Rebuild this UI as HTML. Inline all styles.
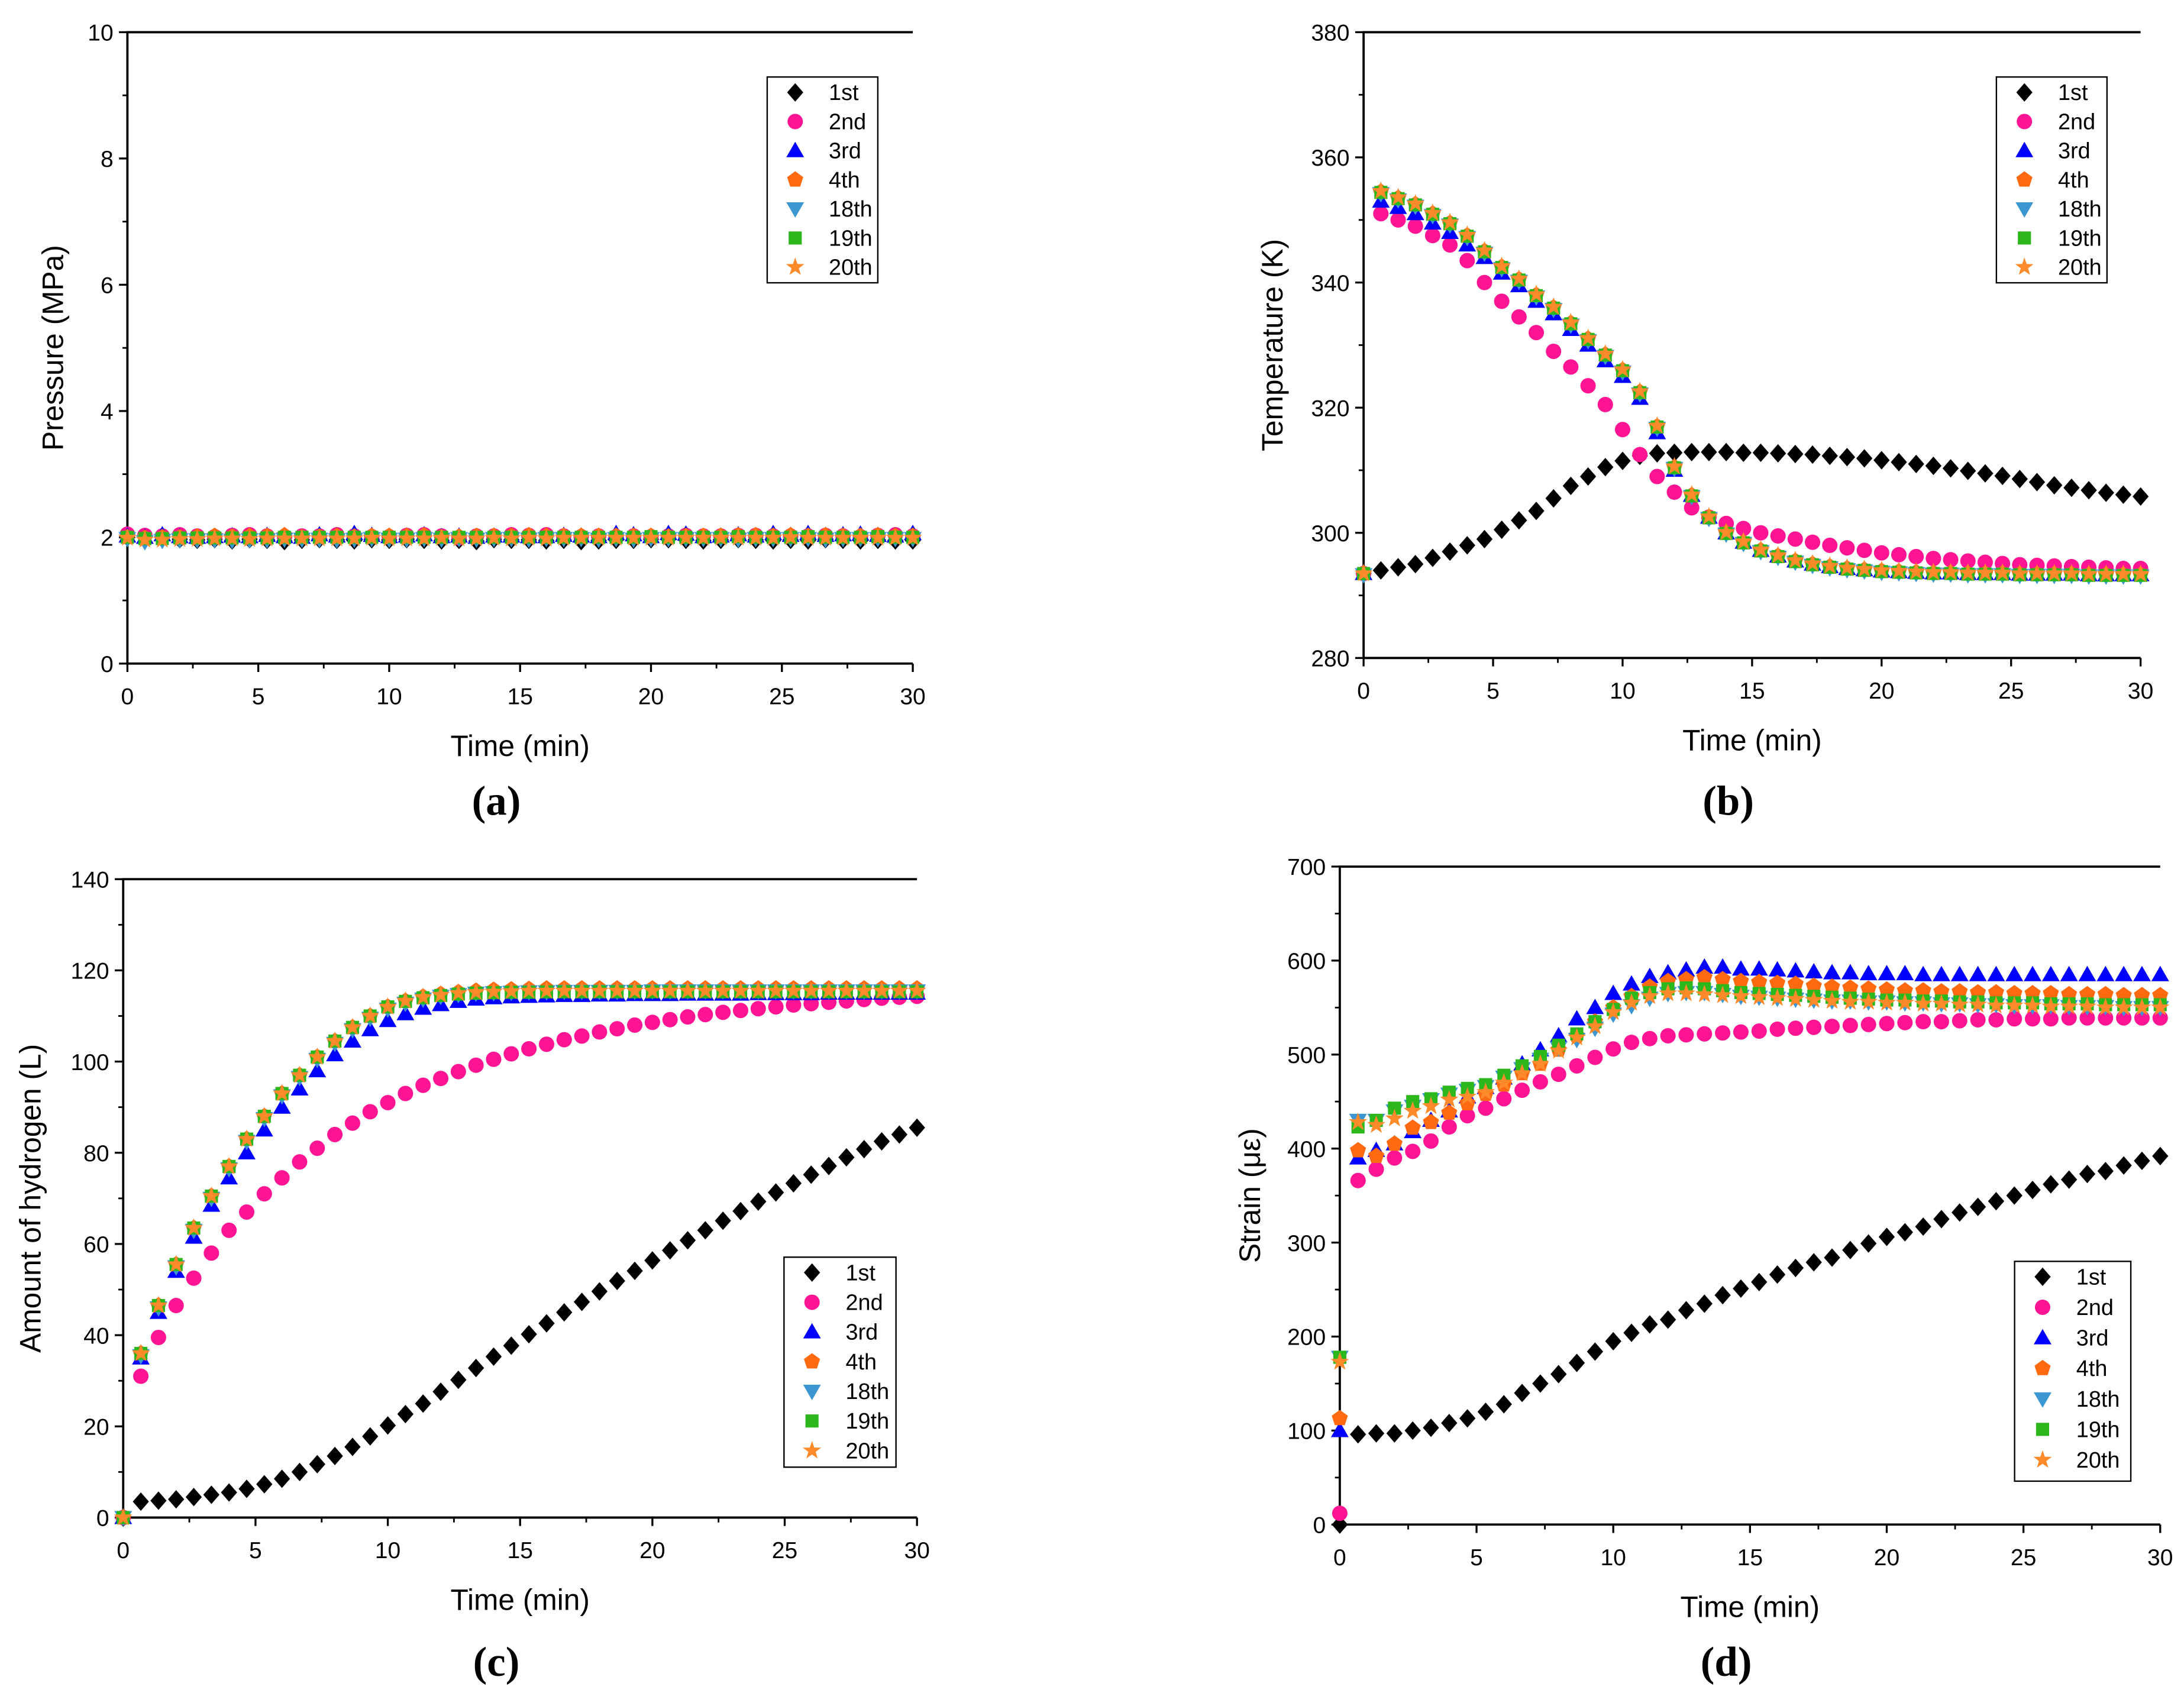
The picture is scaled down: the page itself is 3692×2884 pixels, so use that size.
<!DOCTYPE html>
<html><head><meta charset="utf-8"><style>
html,body{margin:0;padding:0;background:#fff;}
svg{display:block;}
text{font-family:"Liberation Sans",Arial,sans-serif;fill:#000;}
.cap{font-family:"Liberation Serif",serif;font-weight:bold;}
</style></head><body>
<svg id="fig" xmlns="http://www.w3.org/2000/svg" width="3692" height="2884" viewBox="0 0 1560 1218.6" preserveAspectRatio="none"></svg>
<script>
const timeStepMin = 2/3;
const seriesNames = ["1st","2nd","3rd","4th","18th","19th","20th"];
// Panel (a) Pressure (MPa)
const pressure1st = [2.0,2.0,2.01,1.97,1.96,1.97,1.95,1.97,1.96,1.94,1.96,1.97,1.96,1.95,1.97,1.96,1.97,1.96,1.95,1.96,1.94,1.97,1.96,1.96,1.95,1.96,1.94,1.95,1.96,1.96,1.97,1.97,1.96,1.95,1.96,1.97,1.96,1.95,1.96,1.95,1.97,1.96,1.95,1.96,1.95,1.95];
const pressure2nd = [2.05,2.03,2.02,2.04,2.02,2.01,2.03,2.04,2.02,2.01,2.02,2.02,2.04,2.02,2.01,2.01,2.03,2.04,2.02,1.99,2.02,2.02,2.04,2.03,2.04,2.02,2.01,2.02,2.01,2.02,2.01,2.02,2.03,2.02,2.02,2.03,2.03,2.02,2.02,2.02,2.03,2.02,2.01,2.03,2.04,2.02];
const pressure3rd = [2.02,2.0,2.04,2.01,2.0,2.01,2.02,2.01,2.03,2.01,2.0,2.04,2.02,2.06,2.03,2.01,2.02,2.04,2.01,2.02,2.0,2.02,2.02,2.01,2.01,2.03,2.02,2.01,2.06,2.04,2.01,2.06,2.05,2.01,2.02,2.04,2.02,2.06,2.03,2.06,2.03,2.04,2.05,2.03,2.02,2.06];
const pressure4th = [2.0,1.99,2.0,2.0,2.01,2.02,2.01,2.02,2.02,2.03,2.0,2.01,2.02,2.01,2.02,2.02,2.02,2.03,2.0,2.01,2.02,2.02,2.02,2.03,2.02,2.02,2.02,2.02,2.02,2.02,2.02,2.01,2.02,2.02,2.02,2.03,2.03,2.02,2.03,2.02,2.03,2.02,2.02,2.03,2.02,2.02];
const pressure18th = [1.98,1.93,1.95,1.96,1.96,1.96,1.95,1.96,1.96,1.97,1.97,1.97,1.96,1.97,1.98,1.97,1.97,1.98,1.97,1.98,1.97,1.98,1.98,1.97,1.98,1.98,1.98,1.97,1.98,1.97,1.98,1.98,1.98,1.98,1.98,1.97,1.98,1.98,1.98,1.98,1.97,1.98,1.98,1.98,1.98,1.98];
const pressure19th = [2.0,1.98,1.98,1.99,1.99,1.99,1.99,1.99,1.99,2.0,2.0,2.0,2.0,2.0,2.0,2.0,2.0,2.0,2.0,2.0,2.0,2.0,2.0,2.0,2.0,2.0,2.0,2.0,2.0,2.0,2.01,2.0,2.0,2.0,2.0,2.01,2.0,2.0,2.0,2.01,2.0,2.0,2.0,2.01,2.0,2.0];
const pressure20th = [1.99,1.96,1.96,1.97,1.97,1.98,1.98,1.97,1.98,1.98,1.98,1.98,1.98,1.98,1.99,1.98,1.98,1.98,1.99,1.98,1.98,1.99,1.98,1.99,1.98,1.99,1.99,1.99,1.99,1.99,1.99,1.99,1.99,1.99,1.99,1.99,1.99,1.99,2.0,1.99,1.99,1.99,1.99,1.99,1.99,1.99];
// Panel (b) Temperature (K)
const temp1st = [293.5,294,294.5,295,296,297,298,299,300.5,302,303.5,305.5,307.5,309,310.5,311.5,312.3,312.7,312.8,312.9,312.9,312.9,312.8,312.8,312.7,312.6,312.5,312.3,312.1,311.9,311.6,311.3,311,310.7,310.3,309.9,309.5,309.1,308.6,308.1,307.6,307.2,306.8,306.4,306.1,305.8];
const temp2nd = [293.5,351,350,349,347.5,346,343.5,340,337,334.5,332,329,326.5,323.5,320.5,316.5,312.5,309,306.5,304,302.5,301.5,300.7,300,299.5,299,298.5,298,297.6,297.2,296.8,296.5,296.2,295.9,295.7,295.5,295.3,295.1,294.9,294.8,294.7,294.6,294.5,294.4,294.3,294.3];
const temp3rd = [293.5,353,352,351,349.5,348,346,344,341.5,339.5,337,335,332.5,330,327.5,325,321.5,316,310,306,302.5,300,298.5,297.2,296.3,295.5,295,294.6,294.3,294.1,293.9,293.8,293.7,293.6,293.6,293.5,293.5,293.5,293.4,293.4,293.4,293.4,293.3,293.3,293.3,293.3];
const temp4th = [293.5,354.5,353.5,352.5,351,349.5,347.5,345,342.5,340.5,338,336,333.5,331,328.5,326,322.5,317,310.5,306,302.5,300,298.5,297.2,296.3,295.5,295,294.6,294.3,294.1,293.9,293.8,293.7,293.6,293.6,293.5,293.5,293.5,293.4,293.4,293.4,293.4,293.3,293.3,293.3,293.3];
const temp18th = [293.3,354.2,353.2,352.2,350.7,349.2,347.2,344.7,342.2,340.2,337.7,335.7,333.2,330.7,328.2,325.7,322.2,316.7,310.3,305.8,302.3,299.8,298.3,297,296.1,295.3,294.8,294.4,294.1,293.9,293.7,293.6,293.5,293.4,293.4,293.3,293.3,293.3,293.2,293.2,293.2,293.2,293.1,293.1,293.1,293.1];
const temp19th = [293.5,354.4,353.4,352.4,350.9,349.4,347.4,344.9,342.4,340.4,337.9,335.9,333.4,330.9,328.4,325.9,322.4,316.9,310.4,305.9,302.4,299.9,298.4,297.1,296.2,295.4,294.9,294.5,294.2,294,293.8,293.7,293.6,293.5,293.5,293.4,293.4,293.4,293.3,293.3,293.3,293.3,293.2,293.2,293.2,293.2];
const temp20th = [293.5,354.6,353.6,352.6,351.1,349.6,347.6,345.1,342.6,340.6,338.1,336.1,333.6,331.1,328.6,326.1,322.6,317.1,310.6,306.1,302.6,300.1,298.6,297.3,296.4,295.6,295.1,294.7,294.4,294.2,294,293.9,293.8,293.7,293.7,293.6,293.6,293.6,293.5,293.5,293.5,293.5,293.4,293.4,293.4,293.4];
// Panel (c) Amount of hydrogen (L)
const h2_1st = [0,3.5,3.7,4,4.5,5,5.5,6.3,7.3,8.5,10,11.7,13.5,15.5,17.8,20.2,22.7,25,27.6,30.2,32.8,35.3,37.7,40.2,42.6,45,47.3,49.6,51.9,54.1,56.4,58.6,60.8,63,65.1,67.2,69.3,71.3,73.3,75.2,77.1,79,80.8,82.5,84,85.5];
const h2_2nd = [0,31,39.5,46.5,52.5,58,63,67,71,74.5,78,81,84,86.5,89,91,93,94.8,96.3,97.8,99.2,100.5,101.7,102.8,103.8,104.8,105.6,106.5,107.2,108,108.6,109.2,109.8,110.3,110.8,111.2,111.6,112,112.4,112.7,113,113.3,113.6,113.9,114.1,114.3];
const h2_3rd = [0,35,45,54,61.5,68.5,74.5,80,85,90,94,98,101.5,104.5,107,109,110.5,111.7,112.5,113.2,113.7,114,114.2,114.3,114.4,114.5,114.5,114.6,114.6,114.7,114.7,114.7,114.8,114.8,114.8,114.8,114.9,114.9,114.9,114.9,115,115,115,115,115,115];
const h2_4th = [0,36,46.5,55.5,63.5,70.5,77,83,88,93,97,101,104.5,107.5,110,112,113.3,114.2,114.8,115.2,115.5,115.7,115.8,115.9,116,116,116,116,116,116,116,116,116,116,116,116,116,116,116,116,116,116,116,116,116,116];
const h2_18th = [0,35.5,46,55,63,70,76.5,82.5,87.5,92.5,96.5,100.5,104,107,109.5,111.5,112.8,113.7,114.3,114.7,115,115.1,115.2,115.3,115.3,115.4,115.4,115.4,115.4,115.4,115.5,115.5,115.5,115.5,115.5,115.5,115.5,115.5,115.5,115.5,115.5,115.5,115.5,115.5,115.5,115.5];
const h2_19th = [0,36,46.5,55.5,63.5,70.5,77,83,88,93,97,101,104.5,107.5,110,112,113.2,114,114.5,114.8,115,115.1,115.2,115.2,115.3,115.3,115.3,115.3,115.3,115.3,115.3,115.3,115.3,115.3,115.3,115.3,115.3,115.3,115.3,115.3,115.3,115.3,115.3,115.3,115.3,115.3];
const h2_20th = [0,36,46.5,55.5,63.5,70.5,77,83,88,93,97,101,104.5,107.5,110,112,113.3,114.1,114.6,115,115.2,115.3,115.4,115.5,115.5,115.5,115.5,115.5,115.5,115.5,115.5,115.5,115.5,115.5,115.5,115.5,115.5,115.5,115.5,115.5,115.5,115.5,115.5,115.5,115.5,115.5];
// Panel (d) Strain (micro-epsilon)
const strain1st = [0,96,97,97,100,103,108,113,120,128,140,150,160,172,184,195,204,213,218,228,235,244,251,258,266,273,279,284,292,299,306,311,317,325,332,338,344,350,356,362,367,373,376,382,387,392];
const strain2nd = [12,366,378,390,397,408,423,435,443,453,462,471,479,488,497,506,513,517,520,521,522,523,524,525,527,528,529,530,531,532,533,534,535,535,536,537,537,538,538,538,539,539,539,539,539,539];
const strain3rd = [100,390,398,405,418,430,440,455,465,475,490,505,520,538,550,565,575,583,587,590,593,593,591,591,590,589,588,587,587,586,586,586,585,585,585,585,585,585,585,585,585,585,585,585,585,585];
const strain4th = [113,398,392,405,422,428,438,448,458,468,480,490,505,520,535,550,562,572,578,580,582,580,578,577,576,575,573,572,571,570,569,568,568,567,567,566,566,565,565,565,564,564,564,563,563,563];
const strain18th = [178,430,430,440,445,452,458,462,466,476,485,495,507,516,528,543,552,560,565,566,566,564,562,561,560,559,558,557,557,556,556,555,555,554,554,553,553,552,552,552,551,551,551,550,550,550];
const strain19th = [178,423,430,443,450,453,460,464,468,478,488,498,510,522,535,548,560,566,570,571,570,568,566,565,564,563,562,561,560,559,558,558,557,557,556,556,555,555,555,554,554,554,553,553,553,553];
const strain20th = [173,428,425,432,440,445,452,455,460,470,480,490,504,518,530,545,555,562,565,565,564,563,562,561,560,559,558,557,556,556,555,555,554,554,553,553,552,552,552,551,551,551,550,550,550,550];
const xTicks = [0,5,10,15,20,25,30];
const yTicksA = [0,2,4,6,8,10];
const yTicksB = [280,300,320,340,360,380];
const yTicksC = [0,20,40,60,80,100,120,140];
const yTicksD = [0,100,200,300,400,500,600,700];

const NS="http://www.w3.org/2000/svg";
const svg=document.getElementById('fig');
function mk(tag,attrs,parent){const e=document.createElementNS(NS,tag);for(const k in attrs)e.setAttribute(k,attrs[k]);parent.appendChild(e);return e;}
const styles=[
 {shape:'diamond',color:'#000000'},
 {shape:'circle',color:'#ff1493'},
 {shape:'up',color:'#0000ff'},
 {shape:'pent',color:'#ff6a10'},
 {shape:'down',color:'#3c96d2'},
 {shape:'square',color:'#2cb81c'},
 {shape:'star',color:'#ff8a2a'}];
function marker(parent,shape,x,y,color,s){
  let e;
  if(shape==='circle'){e=mk('circle',{cx:x,cy:y,r:s,fill:color},parent);}
  else if(shape==='square'){e=mk('rect',{x:x-s*0.85,y:y-s*0.85,width:s*1.7,height:s*1.7,fill:color},parent);}
  else{
    let pts=[];
    if(shape==='diamond')pts=[[0,-1.2],[1.05,0],[0,1.2],[-1.05,0]];
    else if(shape==='up')pts=[[0,-1.15],[1.15,0.85],[-1.15,0.85]];
    else if(shape==='down')pts=[[0,1.15],[1.15,-0.85],[-1.15,-0.85]];
    else if(shape==='pent'){for(let i=0;i<5;i++){const a=-Math.PI/2+i*2*Math.PI/5;pts.push([1.1*Math.cos(a),1.1*Math.sin(a)]);}}
    else if(shape==='star'){for(let i=0;i<10;i++){const a=-Math.PI/2+i*Math.PI/5;const r=i%2?0.5:1.25;pts.push([r*Math.cos(a),r*Math.sin(a)]);}}
    e=mk('polygon',{points:pts.map(p=>(x+p[0]*s).toFixed(2)+','+(y+p[1]*s).toFixed(2)).join(' '),fill:color},parent);
  }
  return e;
}
function panel(cfg){
  const g=mk('g',{},svg);
  
  
  const sx=v=>cfg.x0+(v-0)/(30-0)*(cfg.x1-cfg.x0);
  const sy=v=>cfg.yb+(v-cfg.ymin)/(cfg.ymax-cfg.ymin)*(cfg.yt-cfg.yb);
  const ax=mk('path',{d:`M${cfg.x1},${cfg.yt} H${cfg.x0} V${cfg.yb} H${cfg.x1}`,fill:'none',stroke:'#000','stroke-width':1.6},g);
  
  
  xTicks.forEach((v,i)=>{
    const x=sx(v);
    mk('line',{x1:x,y1:cfg.yb,x2:x,y2:cfg.yb+6,stroke:'#000','stroke-width':1.4},g);
    if(i<xTicks.length-1){const xm=sx(v+2.5);mk('line',{x1:xm,y1:cfg.yb,x2:xm,y2:cfg.yb+3.5,stroke:'#000','stroke-width':1.2},g);}
    const t=mk('text',{x:x,y:cfg.yb+29,'font-size':16.5,'text-anchor':'middle'},g);t.textContent=v;
    
    
  });
  const yt=cfg.yticks; const step=yt[1]-yt[0];
  yt.forEach((v,i)=>{
    const y=sy(v);
    mk('line',{x1:cfg.x0-6,y1:y,x2:cfg.x0,y2:y,stroke:'#000','stroke-width':1.4},g);
    if(i<yt.length-1){const ym=sy(v+step/2);mk('line',{x1:cfg.x0-3.5,y1:ym,x2:cfg.x0,y2:ym,stroke:'#000','stroke-width':1.2},g);}
    const t=mk('text',{x:cfg.x0-10,y:y+6,'font-size':16.5,'text-anchor':'end'},g);t.textContent=v;
    
    
  });
  const xl=mk('text',{x:(cfg.x0+cfg.x1)/2,y:cfg.yb+66,'font-size':21,'text-anchor':'middle'},g);xl.textContent='Time (min)';
  
  
  const yl=mk('text',{x:0,y:0,'font-size':21,'text-anchor':'middle',transform:`translate(${cfg.ylx},${(cfg.yt+cfg.yb)/2}) rotate(-90)`},g);yl.textContent=cfg.ylabel;
  
  
  const cap=mk('text',{x:(cfg.x0+cfg.x1)/2-17,y:cfg.capy,'font-size':30,'text-anchor':'middle',class:'cap'},g);cap.textContent=cfg.cap;
  
  
  cfg.series.forEach((arr,si)=>{
    const sg=mk('g',{},g);
    
    
    arr.forEach((v,i)=>{
      const m=marker(sg,styles[si].shape,sx(i*timeStepMin),sy(v),styles[si].color,5.5);
      
      
    });
  });
  const L=cfg.leg;
  const lg=mk('g',{},g);
  
  
  mk('rect',{x:L.x,y:L.y,width:L.w,height:L.h,fill:'#fff',stroke:'#000','stroke-width':1},lg);
  seriesNames.forEach((n,i)=>{
    const y=L.y+11+i*L.dy;
    const e=mk('g',{},lg);
    
    
    marker(e,styles[i].shape,L.x+20,y,styles[i].color,5.5);
    const t=mk('text',{x:L.x+44,y:y+5.5,'font-size':16},e);t.textContent=n;
  });
}
panel({name:'panel-a-pressure',x0:91,x1:652,yt:23,yb:474,ymin:0,ymax:10,yticks:yTicksA,ylabel:'Pressure (MPa)',ylx:45,cap:'(a)',capy:582,
  series:[pressure1st,pressure2nd,pressure3rd,pressure4th,pressure18th,pressure19th,pressure20th],leg:{x:548,y:55,w:79,h:147,dy:20.8}});
panel({name:'panel-b-temperature',x0:974,x1:1529,yt:23,yb:470,ymin:280,ymax:380,yticks:yTicksB,ylabel:'Temperature (K)',ylx:916,cap:'(b)',capy:582,
  series:[temp1st,temp2nd,temp3rd,temp4th,temp18th,temp19th,temp20th],leg:{x:1426,y:55,w:79,h:147,dy:20.8}});
panel({name:'panel-c-hydrogen',x0:88,x1:655,yt:628,yb:1084,ymin:0,ymax:140,yticks:yTicksC,ylabel:'Amount of hydrogen (L)',ylx:29,cap:'(c)',capy:1197,
  series:[h2_1st,h2_2nd,h2_3rd,h2_4th,h2_18th,h2_19th,h2_20th],leg:{x:560,y:898,w:80,h:150,dy:21.2}});
panel({name:'panel-d-strain',x0:957,x1:1543,yt:619,yb:1089,ymin:0,ymax:700,yticks:yTicksD,ylabel:'Strain (\u03bc\u03b5)',ylx:900,cap:'(d)',capy:1197,
  series:[strain1st,strain2nd,strain3rd,strain4th,strain18th,strain19th,strain20th],leg:{x:1439,y:901,w:83,h:157,dy:21.8}});
</script>
</body></html>
